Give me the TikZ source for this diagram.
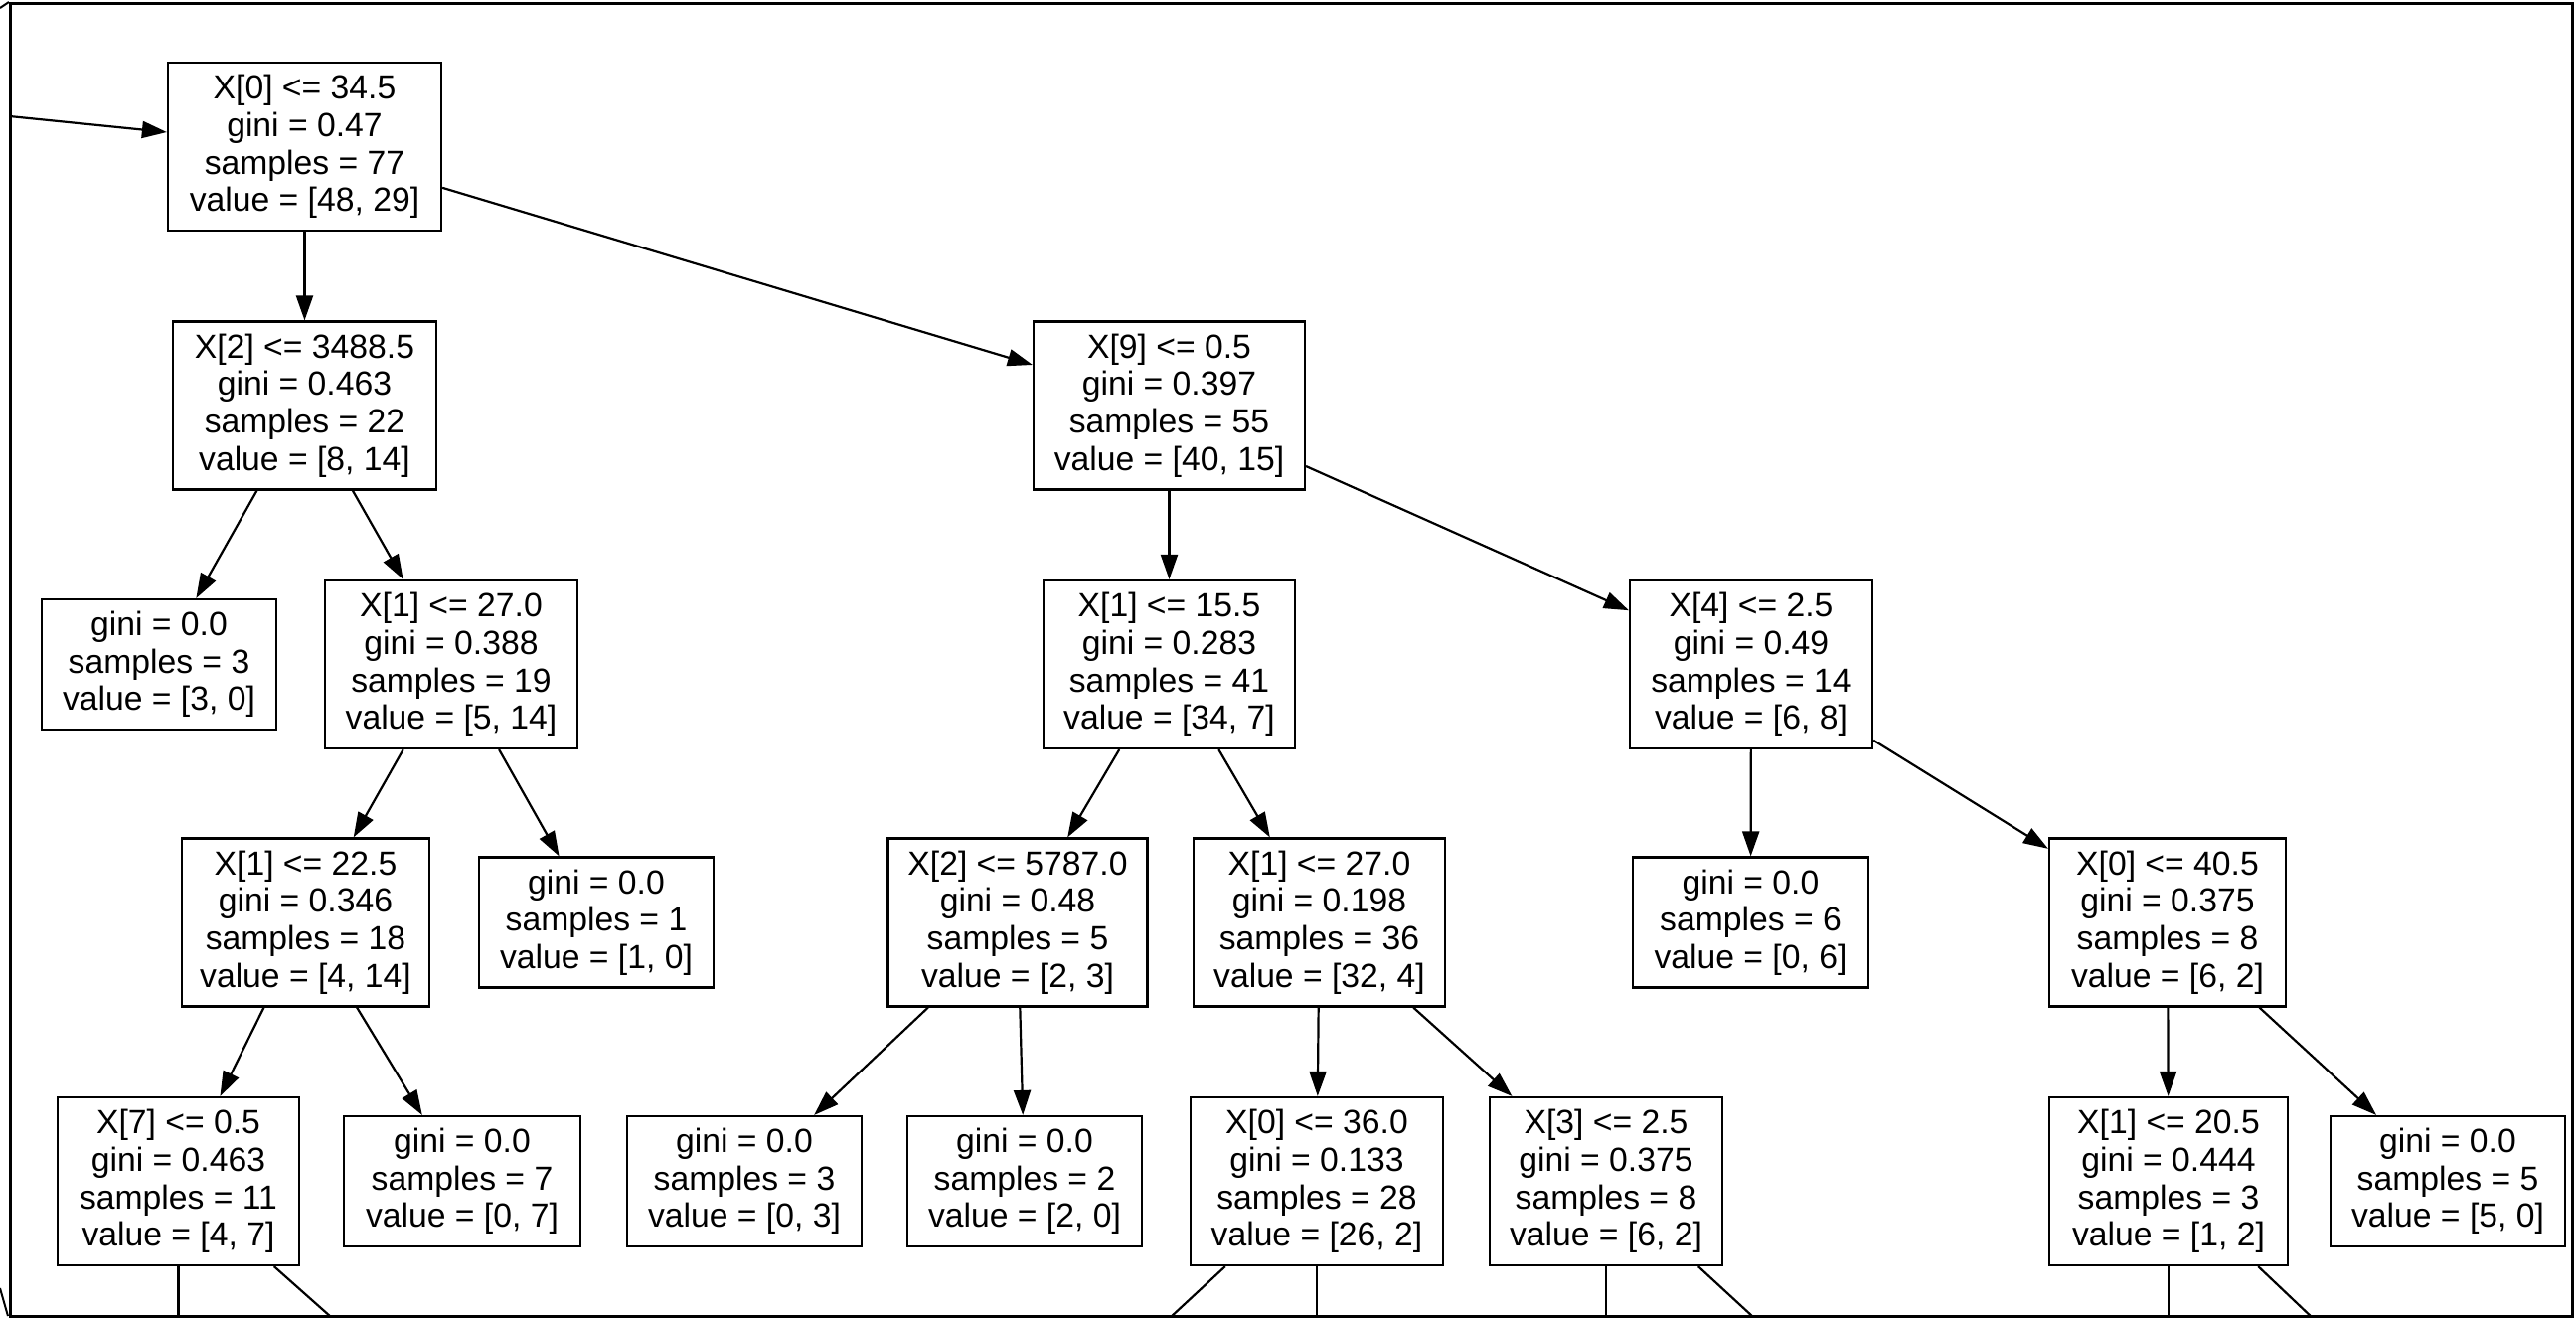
\documentclass[tikz,border=0pt]{standalone}
\usepackage{fontspec}
\setmainfont{Liberation Sans}
\usetikzlibrary{arrows.meta}
\begin{document}
\begin{tikzpicture}[x=1pt,y=-1pt,
  box/.style={draw, line width=2.2pt, rectangle, inner sep=0pt, align=center,
    font=\fontsize{33.7}{37.7}\selectfont},
  split/.style={box, minimum height=169pt},
  leaf/.style={box, minimum height=131pt},
  edge/.style={line width=2.2pt, -{Triangle[length=25pt,width=17pt]}},
  cutedge/.style={line width=2.2pt},
]
\useasboundingbox (0,0) rectangle (2592,1326);
\begin{scope}
\clip (10,3) rectangle (2588,1324);
% row 0
\node[split, minimum width=275pt] (root) at (306.5,147.5) {X[0] <= 34.5\\gini = 0.47\\samples = 77\\value = [48, 29]};
% row 1
\node[split, minimum width=265pt] (n2) at (306.5,408) {X[2] <= 3488.5\\gini = 0.463\\samples = 22\\value = [8, 14]};
\node[split, minimum width=273pt] (n9) at (1176.5,408) {X[9] <= 0.5\\gini = 0.397\\samples = 55\\value = [40, 15]};
% row 2
\node[leaf, minimum width=236pt] (n3) at (160,668.5) {gini = 0.0\\samples = 3\\value = [3, 0]};
\node[split, minimum width=254pt] (n4) at (454,668.5) {X[1] <= 27.0\\gini = 0.388\\samples = 19\\value = [5, 14]};
\node[split, minimum width=253pt] (n10) at (1176.5,668.5) {X[1] <= 15.5\\gini = 0.283\\samples = 41\\value = [34, 7]};
\node[split, minimum width=244pt] (n11) at (1762,668.5) {X[4] <= 2.5\\gini = 0.49\\samples = 14\\value = [6, 8]};
% row 3
\node[split, minimum width=249pt] (n5) at (307.5,928) {X[1] <= 22.5\\gini = 0.346\\samples = 18\\value = [4, 14]};
\node[leaf, minimum width=236pt] (n6) at (600,928) {gini = 0.0\\samples = 1\\value = [1, 0]};
\node[split, minimum width=261pt] (n12) at (1024,928) {X[2] <= 5787.0\\gini = 0.48\\samples = 5\\value = [2, 3]};
\node[split, minimum width=253pt] (n13) at (1327.5,928) {X[1] <= 27.0\\gini = 0.198\\samples = 36\\value = [32, 4]};
\node[leaf, minimum width=237pt] (n14) at (1761.5,928) {gini = 0.0\\samples = 6\\value = [0, 6]};
\node[split, minimum width=238pt] (n15) at (2181,928) {X[0] <= 40.5\\gini = 0.375\\samples = 8\\value = [6, 2]};
% row 4
\node[split, minimum width=243pt] (n7) at (179.5,1188.5) {X[7] <= 0.5\\gini = 0.463\\samples = 11\\value = [4, 7]};
\node[leaf, minimum width=238pt] (n8) at (465,1188.5) {gini = 0.0\\samples = 7\\value = [0, 7]};
\node[leaf, minimum width=236pt] (n16) at (749,1188.5) {gini = 0.0\\samples = 3\\value = [0, 3]};
\node[leaf, minimum width=236pt] (n17) at (1031,1188.5) {gini = 0.0\\samples = 2\\value = [2, 0]};
\node[split, minimum width=254pt] (n18) at (1325,1188.5) {X[0] <= 36.0\\gini = 0.133\\samples = 28\\value = [26, 2]};
\node[split, minimum width=234pt] (n19) at (1616,1188.5) {X[3] <= 2.5\\gini = 0.375\\samples = 8\\value = [6, 2]};
\node[split, minimum width=240pt] (n20) at (2182,1188.5) {X[1] <= 20.5\\gini = 0.444\\samples = 3\\value = [1, 2]};
\node[leaf, minimum width=236pt] (n21) at (2463,1188.5) {gini = 0.0\\samples = 5\\value = [5, 0]};
% off-picture continuations
\coordinate (src) at (-40,112);
\coordinate (c7a) at (179.5,1448.5);
\coordinate (c7b) at (472,1448.5);
\coordinate (c18a) at (1045,1448.5);
\coordinate (c18b) at (1325,1448.5);
\coordinate (c19a) at (1616,1448.5);
\coordinate (c19b) at (1898,1448.5);
\coordinate (c20a) at (2182,1448.5);
\coordinate (c20b) at (2456,1448.5);
% edges
\draw[edge] (src) -- ([yshift=14.5pt]root.west);
\draw[edge] (root) -- (n2);
\draw[edge] (root) -- (n9);
\draw[edge] (n2) -- (n3);
\draw[edge] (n2) -- (n4);
\draw[edge] (n4) -- (n5);
\draw[edge] (n4) -- (n6);
\draw[edge] (n5) -- (n7);
\draw[edge] (n5) -- (n8);
\draw[edge] (n9) -- (n10);
\draw[edge] (n9) -- (n11);
\draw[edge] (n10) -- (n12);
\draw[edge] (n10) -- (n13);
\draw[edge] (n11) -- (n14);
\draw[edge] (n11) -- (n15);
\draw[edge] (n12) -- (n16);
\draw[edge] (n12) -- (n17);
\draw[edge] (n13) -- (n18);
\draw[edge] (n13) -- (n19);
\draw[edge] (n15) -- (n20);
\draw[edge] (n15) -- (n21);
\draw[cutedge] (n7) -- (c7a);
\draw[cutedge] (n7) -- (c7b);
\draw[cutedge] (n18) -- (c18a);
\draw[cutedge] (n18) -- (c18b);
\draw[cutedge] (n19) -- (c19a);
\draw[cutedge] (n19) -- (c19b);
\draw[cutedge] (n20) -- (c20a);
\draw[cutedge] (n20) -- (c20b);
\end{scope}
% frame
\draw[line width=3pt] (10,3) rectangle (2588,1324);
\draw[line width=2pt] (0,1296) -- (8,1324);
\draw[line width=2pt] (0,8) -- (9,2);
\end{tikzpicture}
\end{document}
